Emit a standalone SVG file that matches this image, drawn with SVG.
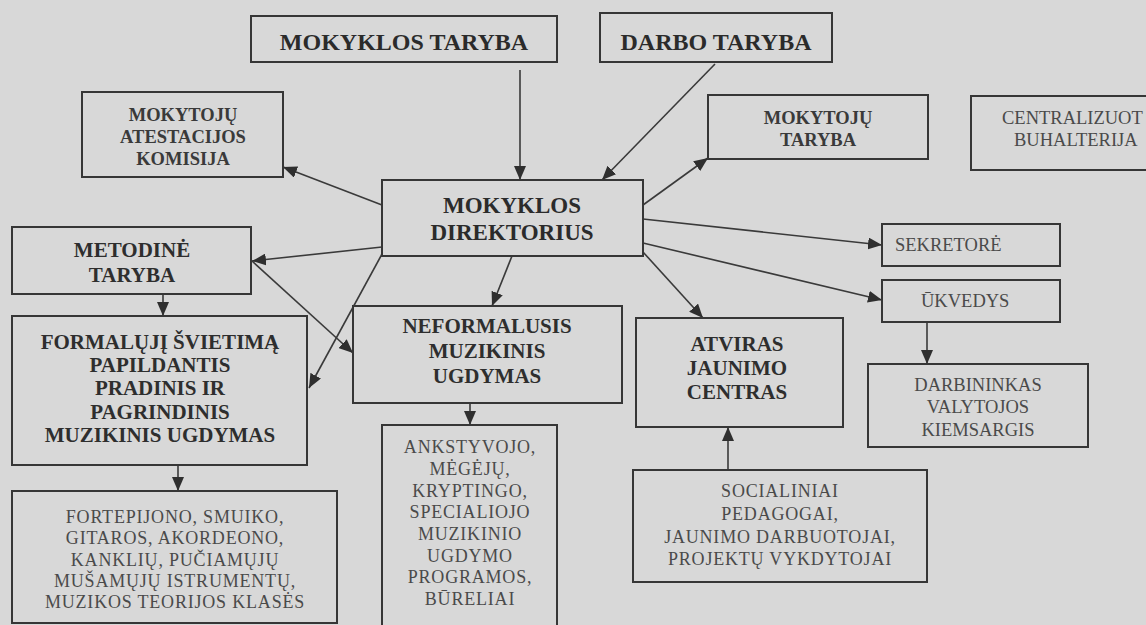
<svg xmlns="http://www.w3.org/2000/svg" width="1146" height="625" viewBox="0 0 1146 625" font-family="'Liberation Serif', 'DejaVu Serif', 'Times New Roman', serif">
  <defs>
    <marker id="ah" markerUnits="userSpaceOnUse" markerWidth="15" markerHeight="12" refX="14" refY="6" orient="auto">
      <path d="M0,0 L14,6 L0,12 z" fill="#2f2f2f"/>
    </marker>
    <style>
      .box { fill: none; stroke: #363636; stroke-width: 2; }
      .conn { stroke: #3a3a3a; stroke-width: 1.6; fill: none; marker-end: url(#ah); }
      .b24, .b23, .b21, .b19, .r19, .r18 { font-family: 'Liberation Serif', 'DejaVu Serif', 'Times New Roman', serif; }
      .b24 { font-size: 24px; font-weight: bold; fill: #2b2b2b; text-anchor: middle; }
      .b23 { font-size: 23px; font-weight: bold; fill: #2b2b2b; text-anchor: middle; }
      .b21 { font-size: 21px; font-weight: bold; fill: #2e2e2e; text-anchor: middle; }
      .b19 { font-size: 18.5px; font-weight: bold; fill: #3a3a3a; text-anchor: middle; }
      .r19 { font-size: 18.5px; fill: #4a4a4a; }
      .r18 { font-size: 18px; fill: #4a4a4a; text-anchor: middle; letter-spacing: 0.8px; }
      .mid { text-anchor: middle; }
    </style>
  </defs>
  <rect x="0" y="0" width="1146" height="625" fill="#d8d8d8"/>

  <g id="connectors">
    <line class="conn" x1="520" y1="70" x2="520" y2="180"/>
    <line class="conn" x1="715" y1="64" x2="602" y2="180"/>
    <line class="conn" x1="643" y1="205" x2="708" y2="158"/>
    <line class="conn" x1="382" y1="205" x2="283" y2="167"/>
    <line class="conn" x1="382" y1="247" x2="252" y2="261"/>
    <line class="conn" x1="382" y1="254" x2="309" y2="388"/>
    <line class="conn" x1="252" y1="261" x2="353" y2="353"/>
    <line class="conn" x1="163" y1="294" x2="163" y2="316"/>
    <line class="conn" x1="512" y1="256" x2="492" y2="306"/>
    <line class="conn" x1="470" y1="403" x2="470" y2="425"/>
    <line class="conn" x1="178" y1="465" x2="178" y2="491"/>
    <line class="conn" x1="643" y1="219" x2="882" y2="245"/>
    <line class="conn" x1="643" y1="243" x2="882" y2="300"/>
    <line class="conn" x1="643" y1="252" x2="703" y2="318"/>
    <line class="conn" x1="927" y1="322" x2="927" y2="364"/>
    <line class="conn" x1="728" y1="470" x2="728" y2="427"/>
  </g>

  <g id="mokyklos-taryba">
    <rect class="box" x="251" y="16" width="306" height="46"/>
    <text class="b24" x="404" y="50">MOKYKLOS TARYBA</text>
  </g>
  <g id="darbo-taryba">
    <rect class="box" x="600" y="13" width="232" height="49"/>
    <text class="b24" x="716" y="50">DARBO TARYBA</text>
  </g>
  <g id="atestacijos-komisija">
    <rect class="box" x="82" y="92" width="201" height="85"/>
    <text class="b19" x="183" y="121">MOKYTOJŲ</text>
    <text class="b19" x="183" y="143">ATESTACIJOS</text>
    <text class="b19" x="183" y="165">KOMISIJA</text>
  </g>
  <g id="mokytoju-taryba">
    <rect class="box" x="708" y="95" width="220" height="64"/>
    <text class="b19" x="818" y="124">MOKYTOJŲ</text>
    <text class="b19" x="818" y="146">TARYBA</text>
  </g>
  <g id="buhalterija">
    <rect class="box" x="971" y="96" width="190" height="74"/>
    <text class="r19" x="1002" y="124">CENTRALIZUOT</text>
    <text class="r19" x="1014" y="146">BUHALTERIJA</text>
  </g>
  <g id="direktorius">
    <rect class="box" x="382" y="180" width="261" height="76"/>
    <text class="b23" x="512" y="213">MOKYKLOS</text>
    <text class="b23" x="512" y="240">DIREKTORIUS</text>
  </g>
  <g id="metodine-taryba">
    <rect class="box" x="12" y="227" width="239" height="67"/>
    <text class="b21" x="132" y="257">METODINĖ</text>
    <text class="b21" x="132" y="282">TARYBA</text>
  </g>
  <g id="sekretore">
    <rect class="box" x="882" y="224" width="178" height="42"/>
    <text class="r19" x="895" y="251">SEKRETORĖ</text>
  </g>
  <g id="ukvedys">
    <rect class="box" x="882" y="280" width="178" height="42"/>
    <text class="r19" x="921" y="307">ŪKVEDYS</text>
  </g>
  <g id="formalusis">
    <rect class="box" x="12" y="316" width="295" height="149"/>
    <text class="b21" x="160" y="349">FORMALŲJĮ ŠVIETIMĄ</text>
    <text class="b21" x="160" y="372">PAPILDANTIS</text>
    <text class="b21" x="160" y="395">PRADINIS IR</text>
    <text class="b21" x="160" y="419">PAGRINDINIS</text>
    <text class="b21" x="160" y="442">MUZIKINIS UGDYMAS</text>
  </g>
  <g id="neformalusis">
    <rect class="box" x="353" y="306" width="269" height="97"/>
    <text class="b21" x="487" y="333">NEFORMALUSIS</text>
    <text class="b21" x="487" y="358">MUZIKINIS</text>
    <text class="b21" x="487" y="383">UGDYMAS</text>
  </g>
  <g id="jaunimo-centras">
    <rect class="box" x="636" y="318" width="207" height="109"/>
    <text class="b21" x="737" y="351">ATVIRAS</text>
    <text class="b21" x="737" y="375">JAUNIMO</text>
    <text class="b21" x="737" y="399">CENTRAS</text>
  </g>
  <g id="darbininkas">
    <rect class="box" x="868" y="364" width="220" height="83"/>
    <text class="r19 mid" x="978" y="391">DARBININKAS</text>
    <text class="r19 mid" x="978" y="413">VALYTOJOS</text>
    <text class="r19 mid" x="978" y="436">KIEMSARGIS</text>
  </g>
  <g id="klases">
    <rect class="box" x="12" y="491" width="325" height="132"/>
    <text class="r18" x="175" y="523">FORTEPIJONO,  SMUIKO,</text>
    <text class="r18" x="175" y="544">GITAROS, AKORDEONO,</text>
    <text class="r18" x="175" y="566">KANKLIŲ, PUČIAMŲJŲ</text>
    <text class="r18" x="175" y="587">MUŠAMŲJŲ ISTRUMENTŲ,</text>
    <text class="r18" x="175" y="608">MUZIKOS TEORIJOS KLASĖS</text>
  </g>
  <g id="programos">
    <rect class="box" x="382" y="425" width="175" height="215"/>
    <text class="r18" x="470" y="453">ANKSTYVOJO,</text>
    <text class="r18" x="470" y="475">MĖGĖJŲ,</text>
    <text class="r18" x="470" y="497">KRYPTINGO,</text>
    <text class="r18" x="470" y="518">SPECIALIOJO</text>
    <text class="r18" x="470" y="540">MUZIKINIO</text>
    <text class="r18" x="470" y="562">UGDYMO</text>
    <text class="r18" x="470" y="583">PROGRAMOS,</text>
    <text class="r18" x="470" y="605">BŪRELIAI</text>
  </g>
  <g id="socialiniai">
    <rect class="box" x="633" y="470" width="294" height="112"/>
    <text class="r18" x="780" y="497">SOCIALINIAI</text>
    <text class="r18" x="780" y="520">PEDAGOGAI,</text>
    <text class="r18" x="780" y="543">JAUNIMO DARBUOTOJAI,</text>
    <text class="r18" x="780" y="565">PROJEKTŲ VYKDYTOJAI</text>
  </g>
</svg>
